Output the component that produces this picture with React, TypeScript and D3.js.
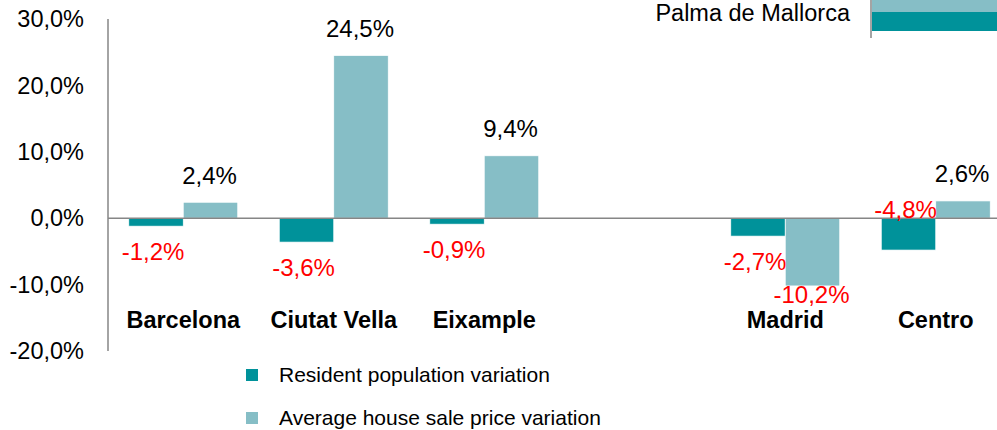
import React from 'react';
import * as d3 from 'd3';

const categories = ['Barcelona', 'Ciutat Vella', 'Eixample', '', 'Madrid', 'Centro'];
const popVariation = [-1.2, -3.6, -0.9, null, -2.7, -4.8];
const priceVariation = [2.4, 24.5, 9.4, null, -10.2, 2.6];
const yTicks = [-20, -10, 0, 10, 20, 30];
const seriesNames = ['Resident population variation', 'Average house sale price variation'];
const palmaLabel = 'Palma de Mallorca';

const DARK = '#00929a';
const LIGHT = '#86bec6';
const AXIS = '#868686';
const FONT = '"Liberation Sans", Arial, sans-serif';

const locale = d3.formatLocale({ decimal: ',', thousands: '.', grouping: [3], currency: ['', '€'], minus: '-' });
const fmt = (v: number) => locale.format('.1f')(v) + '%';

const App = () => {
  const width = 997, height = 430;

  const x = d3.scaleBand<string>()
    .domain(categories.map((c, i) => c || `gap${i}`))
    .range([108, 1011])
    .paddingInner(0.276)
    .paddingOuter(0.138);
  const sub = d3.scaleBand<string>().domain(['pop', 'price']).range([0, x.bandwidth()]);
  const y = d3.scaleLinear().domain([-20, 30]).range([351, 19]);

  // cropped horizontal bars of the next panel (top right)
  const py = d3.scaleBand<string>().domain(['price', 'pop']).range([-7, 31]);
  const px = 871;

  const key = (i: number) => categories[i] || `gap${i}`;

  // label placement, following the hand-placed labels of the source
  const popLabelY = (v: number, i: number) =>
    categories[i] === 'Centro' ? y(0) - 9 : y(v) + 25;
  const priceLabelY = (v: number, i: number) =>
    v >= 0 ? y(v) - 27 : y(v) + 9;

  return (
    <svg width={width} height={height} style={{ position: 'absolute', left: 0, top: 0 }} fontFamily={FONT}>
      {/* y axis labels */}
      {yTicks.map(t => (
        <text key={t} x={84} y={y(t)} dy="0.35em" textAnchor="end" fontSize={23.5} fill="#000">
          {fmt(t)}
        </text>
      ))}
      <line x1={108} x2={108} y1={y(30)} y2={y(-20)} stroke={AXIS} strokeWidth={1.5} />

      {/* bars */}
      {categories.map((c, i) => {
        const p = popVariation[i], q = priceVariation[i];
        if (p == null || q == null) return null;
        const x0 = x(key(i))!;
        return (
          <g key={c}>
            <rect x={x0 + sub('pop')!} width={sub.bandwidth()} y={y(Math.max(0, p))}
              height={Math.abs(y(p) - y(0))} fill={DARK} stroke="#fff" strokeWidth={0.7} />
            <rect x={x0 + sub('price')!} width={sub.bandwidth()} y={y(Math.max(0, q))}
              height={Math.abs(y(q) - y(0))} fill={LIGHT} stroke="#fff" strokeWidth={0.7} />
          </g>
        );
      })}

      <line x1={108} x2={width} y1={y(0)} y2={y(0)} stroke={AXIS} strokeWidth={1.5} />

      {/* value labels */}
      {categories.map((c, i) => {
        const p = popVariation[i], q = priceVariation[i];
        if (p == null || q == null) return null;
        const x0 = x(key(i))!;
        const cp = x0 + sub('pop')! + sub.bandwidth() / 2;
        const cq = x0 + sub('price')! + sub.bandwidth() / 2;
        return (
          <g key={'l' + c} fontSize={24}>
            <text x={cp - 3} y={popLabelY(p, i)} dy="0.35em"
              textAnchor="middle" fill={p < 0 ? '#ff0000' : '#000'}>{fmt(p)}</text>
            <text x={cq - 1} y={priceLabelY(q, i)} dy="0.35em"
              textAnchor="middle" fill={q < 0 ? '#ff0000' : '#000'}>{fmt(q)}</text>
          </g>
        );
      })}

      {/* category labels */}
      {categories.map((c, i) => c && (
        <text key={'c' + c} x={x(key(i))! + x.bandwidth() / 2} y={320} dy="0.35em"
          textAnchor="middle" fontSize={23.5} fontWeight="bold" fill="#000">{c}</text>
      ))}

      {/* legend */}
      {seriesNames.map((s, i) => (
        <g key={s} transform={`translate(246,${375 + i * 43})`}>
          <rect x={0} y={-6} width={12} height={12} fill={i === 0 ? DARK : LIGHT} />
          <text x={33} y={0} dy="0.35em" fontSize={21} fill="#000">{s}</text>
        </g>
      ))}

      {/* cropped panel at top right */}
      <text x={850} y={21} textAnchor="end" fontSize={23.5} fill="#000">{palmaLabel}</text>
      <rect x={px + 1} y={py('price')!} width={width - px} height={py.bandwidth()} fill={LIGHT} />
      <rect x={px + 1} y={py('pop')!} width={width - px} height={py.bandwidth()} fill={DARK} />
      <line x1={px} x2={px} y1={0} y2={38} stroke={AXIS} strokeWidth={1.5} />
    </svg>
  );
};

export default App;
